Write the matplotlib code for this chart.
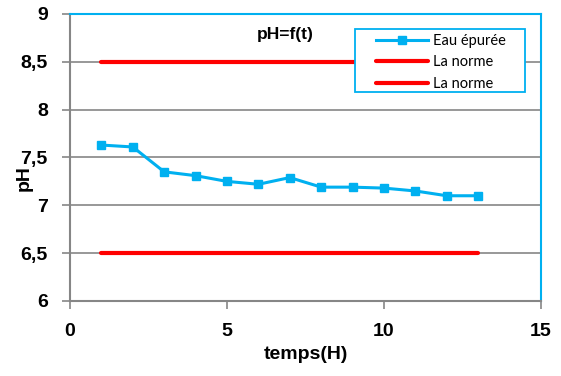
import numpy as np
import matplotlib.pyplot as plt
from matplotlib.patches import Rectangle
from matplotlib.ticker import FuncFormatter, MultipleLocator

plt.rcParams['font.family'] = ['Lato', 'DejaVu Sans']
gras = dict(family='Liberation Sans', fontweight='bold')

# mesures de pH de l'eau épurée
temps = [1, 2, 3, 4, 5, 6, 7, 8, 9, 10, 11, 12, 13]
ph_eau = [7.63, 7.61, 7.35, 7.31, 7.25, 7.22, 7.29, 7.19, 7.19, 7.18, 7.15, 7.10, 7.10]
norme_max = [8.5] * len(temps)
norme_min = [6.5] * len(temps)

bleu = '#00B0F0'
rouge = '#FF0000'
gris = '#868686'

fig = plt.figure(figsize=(5.61, 3.76), dpi=100)
ax = fig.add_axes([0.1248, 0.1995, 0.8395, 0.7633])

ax.plot(temps, ph_eau, color=bleu, lw=2.2, marker='s', ms=6, label='Eau épurée', zorder=4)
ax.plot(temps, norme_max, color=rouge, lw=3, solid_capstyle='round', label='La norme', zorder=3)
ax.plot(temps, norme_min, color=rouge, lw=3, solid_capstyle='round', label='La norme', zorder=3)

ax.set_xlim(0, 15)
ax.set_ylim(6, 9)
ax.xaxis.set_major_locator(MultipleLocator(5))
ax.yaxis.set_major_locator(MultipleLocator(0.5))
fmt = FuncFormatter(lambda v, p: ('%g' % v).replace('.', ','))
ax.xaxis.set_major_formatter(fmt)
ax.yaxis.set_major_formatter(fmt)
ax.grid(axis='y', color=gris, lw=1.2, zorder=1)
ax.set_axisbelow(True)

for s in ['left', 'bottom']:
    ax.spines[s].set_color(gris)
    ax.spines[s].set_linewidth(1.5)
for s in ['top', 'right']:
    ax.spines[s].set_color(bleu)
    ax.spines[s].set_linewidth(1.5)
ax.tick_params(axis='both', direction='out', length=6, width=1.2, color=gris,
               labelsize=14)
ax.tick_params(axis='x', pad=10)
ax.tick_params(axis='y', pad=10)
for lab in ax.get_xticklabels() + ax.get_yticklabels():
    lab.set_family('Liberation Sans')
    lab.set_fontweight('bold')

ax.set_xlabel('temps(H)', fontsize=14, labelpad=4, **gras)
ax.set_ylabel('pH', fontsize=14, **gras)
ax.yaxis.set_label_coords(-0.08, 0.43)
ax.text(0.457, 0.93, 'pH=f(t)', transform=ax.transAxes, ha='center', va='center',
        fontsize=12.5, **gras)

# cadre de la légende
ax.add_patch(Rectangle((0.605, 0.728), 0.361, 0.22, transform=ax.transAxes,
                       facecolor='white', edgecolor=bleu, lw=1.3, zorder=5))
leg = ax.legend(loc='upper left', bbox_to_anchor=(0.649, 0.93), fontsize=10.5,
                frameon=False, handlelength=3.6, borderpad=0, labelspacing=0.5,
                handletextpad=0.35, borderaxespad=0)
leg.set_zorder(6)

fig.savefig('out.png', dpi=100)
